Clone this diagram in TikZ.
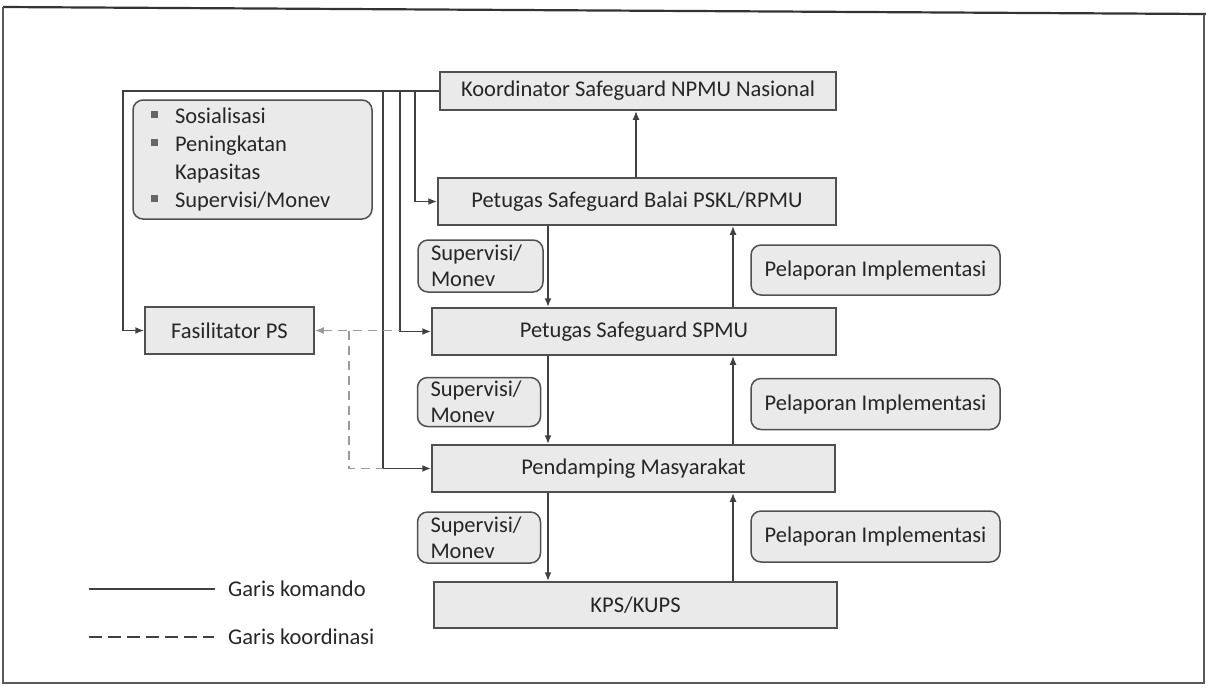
\documentclass[tikz,border=0pt]{standalone}
\usepackage{fontspec}
\setmainfont{Carlito}
\usetikzlibrary{arrows.meta}
\definecolor{boxfill}{HTML}{EAEAEA}
\definecolor{edge}{HTML}{505050}
\definecolor{cmdline}{HTML}{404040}
\definecolor{crdline}{HTML}{9A9A9A}
\definecolor{ink}{HTML}{262626}
\tikzset{
  unit/.style={draw=edge, line width=1.5pt, fill=boxfill, font=\fontsize{22.5}{26}\selectfont, text=ink, inner sep=0pt, align=center},
  note/.style={unit, rounded corners=10pt},
  cmd/.style={draw=cmdline, line width=1.8pt},
  cmdarrow/.style={cmd, -{Latex[length=9pt,width=7pt]}},
  crd/.style={draw=crdline, line width=1.8pt, dash pattern=on 9pt off 6pt},
  legendtext/.style={anchor=west, font=\fontsize{22.5}{26}\selectfont, text=ink, inner sep=0pt}
}
\newcommand{\blt}{\raisebox{5pt}{\color{black!60}\rule{7pt}{7pt}}}
\begin{document}
\begin{tikzpicture}[x=1pt, y=-1pt]
\useasboundingbox (0,0) rectangle (1206,689);
% outer frame
\draw[line width=2.2pt, draw=black!80] (3,7) -- (1206,14);
\draw[line width=1.2pt, draw=black!65] (3,7) -- (3,683) -- (1204,683) -- (1204,14);

% organisation units
\node[unit, minimum width=396pt, minimum height=38pt] (koord) at (638,91) {Koordinator Safeguard NPMU Nasional};
\node[unit, minimum width=398pt, minimum height=47pt] (balai) at (637,201.5) {Petugas Safeguard Balai PSKL/RPMU};
\node[unit, minimum width=404pt, minimum height=47pt] (spmu) at (634,331.5) {Petugas Safeguard SPMU};
\node[unit, minimum width=403pt, minimum height=47pt] (pend) at (633.5,468.5) {Pendamping Masyarakat};
\node[unit, minimum width=403pt, minimum height=46pt] (kps) at (635.5,605) {KPS/KUPS};
\node[unit, minimum width=169pt, minimum height=47pt] (fasil) at (229.5,330.5) {Fasilitator PS};

% activity notes
\node[note, minimum width=239pt, minimum height=119pt, align=left, text width=203pt] (keg) at (252.5,159.5) {%
  \fontsize{22.5}{28}\selectfont
  \begin{tabular}{@{}l@{\hspace{17pt}}l@{}}
  \blt & Sosialisasi\\
  \blt & Peningkatan\\
       & Kapasitas\\
  \blt & Supervisi/Monev
  \end{tabular}};
\node[note, minimum width=125pt, minimum height=52pt, align=left, text width=99pt] (sup1) at (480.5,266) {Supervisi/\\Monev};
\node[note, minimum width=123pt, minimum height=49pt, align=left, text width=97pt] (sup2) at (479,402) {Supervisi/\\Monev};
\node[note, minimum width=123pt, minimum height=51pt, align=left, text width=97pt] (sup3) at (479,537.5) {Supervisi/\\Monev};
\node[note, minimum width=249pt, minimum height=50pt] (lap1) at (875.5,270) {Pelaporan Implementasi};
\node[note, minimum width=249pt, minimum height=51pt] (lap2) at (875.5,404) {Pelaporan Implementasi};
\node[note, minimum width=249pt, minimum height=51pt] (lap3) at (875.5,536.5) {Pelaporan Implementasi};

% reporting upward
\draw[cmdarrow] (balai.north -| 636,0) -- (koord.south -| 636,0);
\draw[cmdarrow] (spmu.north -| 733,0) -- (balai.south -| 733,0);
\draw[cmdarrow] (pend.north -| 733,0) -- (spmu.south -| 733,0);
\draw[cmdarrow] (kps.north -| 733,0) -- (pend.south -| 733,0);

% supervision downward
\draw[cmdarrow] (balai.south -| 548,0) -- (spmu.north -| 548,0);
\draw[cmdarrow] (spmu.south -| 548,0) -- (pend.north -| 548,0);
\draw[cmdarrow] (pend.south -| 548,0) -- (kps.north -| 548,0);

% command lines from the national coordinator
\coordinate (bus) at (123,91);
\coordinate (tapA) at (383,91);
\coordinate (tapB) at (400,91);
\coordinate (tapC) at (415,91);
\draw[cmdarrow] (koord.west) -- (bus) |- (fasil.west);
\draw[cmdarrow] (tapC) |- (balai.west);
\draw[cmdarrow] (tapB) |- (spmu.west);
\draw[cmdarrow] (tapA) |- (pend.west);

% coordination lines of the facilitator
\coordinate (crdturn) at (349,330.5);
\draw[crd, {Latex[length=9pt,width=7pt]}-] (fasil.east) -- (fasil.east -| tapB);
\draw[crd] (crdturn) |- (pend.west -| tapA);

% legend
\coordinate (legA1) at (89,589);
\coordinate (legA2) at (215,589);
\coordinate (legB1) at (89,637);
\coordinate (legB2) at (214,637);
\draw[cmd] (legA1) -- (legA2);
\draw[cmd, dash pattern=on 13pt off 6pt] (legB1) -- (legB2);
\node[legendtext] (legAtext) at (228,589) {Garis komando};
\node[legendtext] (legBtext) at (228,637) {Garis koordinasi};
\end{tikzpicture}
\end{document}
